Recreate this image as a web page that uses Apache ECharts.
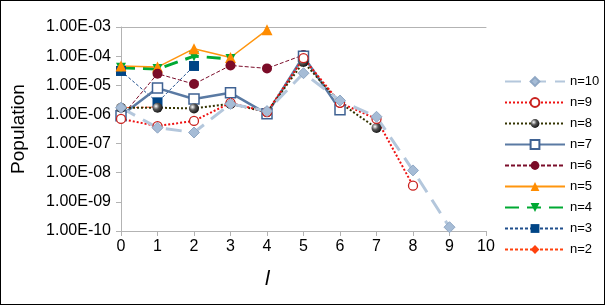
<!DOCTYPE html>
<html><head><meta charset="utf-8">
<script src="https://cdn.jsdelivr.net/npm/echarts@6/dist/echarts.min.js"></script>
<style>
html,body{margin:0;padding:0;background:#fff;}
#frame{position:absolute;left:0;top:0;width:603px;height:303px;border:1px solid #000;}
#c{width:603px;height:303px;}
</style></head>
<body><div id="frame"><div id="c"></div></div>
<script>
const xCats = [0,1,2,3,4,5,6,7,8,9,10];
const yTicks = ['1.00E-10','1.00E-09','1.00E-08','1.00E-07','1.00E-06','1.00E-05','1.00E-04','1.00E-03'];
const seriesNames = ['n=10','n=9','n=8','n=7','n=6','n=5','n=4','n=3','n=2'];
const n10 = [1.7e-6, 3.5e-7, 2.4e-7, 2.3e-6, 1.3e-6, 2.6e-5, 3.0e-6, 8.3e-7, 1.2e-8, 1.35e-10];
const n9  = [7e-7, 4e-7, 6e-7, 2.5e-6, 1.2e-6, 8.5e-5, 2.5e-6, 7e-7, 3.6e-9];
const n8  = [1.7e-6, 1.7e-6, 1.6e-6, 2.3e-6, 1.2e-6, 6.3e-5, 2.5e-6, 3.4e-7];
const n7  = [9e-7, 8e-6, 3.4e-6, 5.5e-6, 1.05e-6, 1.0e-4, 1.45e-6];
const n6  = [8e-7, 2.5e-5, 1.1e-5, 4.8e-5, 3.8e-5, 1.1e-4];
const n5  = [4.6e-5, 4.2e-5, 1.8e-4, 9.0e-5, 8.0e-4];
const n4  = [4.0e-5, 3.6e-5, 1.0e-4, 8.0e-5];
const n3  = [3.1e-5, 2.6e-6, 4.6e-5];
const n2  = [1.7e-6, 1.8e-6];

function pairs(arr){ return arr.map((v,i)=>[i,v]); }
function fmt(v){
  const e = Math.round(Math.log10(v));
  const s = Math.abs(e) < 10 ? '0'+Math.abs(e) : ''+Math.abs(e);
  return '1.00E' + (e<0?'-':'+') + s;
}
const sphere = c => ({type:'radial',x:0.35,y:0.35,r:0.7,colorStops:[{offset:0,color:'#fff'},{offset:0.45,color:c},{offset:1,color:'#111'}]});

const defs = [
  {name:'n=10', data:n10, color:'#b4c7dc', lw:3, type:[16,9], symbol:'diamond', size:11, item:{color:'#a6bcd6', borderColor:'#8fa7c4', borderWidth:1}},
  {name:'n=9', data:n9, color:'#ee1111', lw:2, type:[2,2], symbol:'circle', size:9, item:{color:'#fff', borderColor:'#c9211e', borderWidth:1.3}},
  {name:'n=8', data:n8, color:'#333300', lw:2, type:[2,2], symbol:'circle', size:10, item:{color:sphere('#555'), borderWidth:0}},
  {name:'n=7', data:n7, color:'#5a7aa3', lw:2.5, type:'solid', symbol:'rect', size:10, item:{color:'#fff', borderColor:'#3f6293', borderWidth:1.5}},
  {name:'n=6', data:n6, color:'#7b0d2a', lw:1, type:[4,2], symbol:'circle', size:10, item:{color:'#7b0c28', borderWidth:0}},
  {name:'n=5', data:n5, color:'#ff950e', lw:1.5, type:'solid', symbol:'triangle', size:11, item:{color:'#ff8c00', borderWidth:0}},
  {name:'n=4', data:n4, color:'#00a933', lw:3, type:[14,8], symbol:'path://M0,0 L10,0 L5,10 Z', size:10, item:{color:'#00a933', borderWidth:0}},
  {name:'n=3', data:n3, color:'#1f4e8c', lw:1, type:[3,2], symbol:'rect', size:10, item:{color:'#004586', borderWidth:0}},
  {name:'n=2', data:n2, color:'#ff420e', lw:1, type:[3,2], symbol:'diamond', size:10, item:{color:'#ff420e', borderWidth:0}}
];

const series = defs.slice().reverse().map(d => ({
  name:d.name, type:'line', data:pairs(d.data), symbol:d.symbol, symbolSize:d.size,
  showAllSymbol:true, animation:false,
  lineStyle:{color:d.color, width:d.lw, type:d.type},
  itemStyle:Object.assign({}, d.item),
  emphasis:{disabled:true}
}));

const chart = echarts.init(document.getElementById('c'), null, {renderer:'canvas'});
chart.setOption({
  animation:false,
  textStyle:{fontFamily:'Liberation Sans, Arial, sans-serif'},
  grid:{left:120, right:118, top:26, bottom:73, containLabel:false},
  legend:{
    data:seriesNames, orient:'vertical', left:498, top:69,
    itemWidth:60, itemHeight:11, itemGap:8,
    textStyle:{fontSize:13, color:'#000', fontFamily:'Liberation Sans, Arial, sans-serif'}
  },
  graphic:[{type:'text', left:264, top:268, style:{text:'l', font:'italic 21px "Liberation Sans", Arial, sans-serif', fill:'#000'}}],
  xAxis:[{
    type:'value', min:0, max:10, interval:1,
    axisLine:{show:true, lineStyle:{color:'#b3b3b3', width:1}},
    axisTick:{show:true, length:5, lineStyle:{color:'#b3b3b3'}},
    axisLabel:{fontSize:16, color:'#000', margin:8},
    splitLine:{show:false}
  },{
    type:'value', min:0, max:10, position:'top',
    axisLine:{show:true, lineStyle:{color:'#b3b3b3', width:1}},
    axisTick:{show:false}, axisLabel:{show:false}, splitLine:{show:false}
  }],
  yAxis:{
    type:'log', logBase:10, min:1e-10, max:1e-3, interval:1,
    axisLine:{show:true, lineStyle:{color:'#b3b3b3', width:1}},
    axisTick:{show:true, length:5, lineStyle:{color:'#b3b3b3'}},
    axisLabel:{fontSize:16, color:'#000', margin:10, formatter:v=>{
      const lbl = yTicks.find(t => t === fmt(v));
      return lbl || fmt(v);
    }},
    splitLine:{show:false},
    name:'Population', nameLocation:'middle', nameGap:93,
    nameTextStyle:{fontSize:19, color:'#000'}
  },
  series:series
});
</script></body></html>
